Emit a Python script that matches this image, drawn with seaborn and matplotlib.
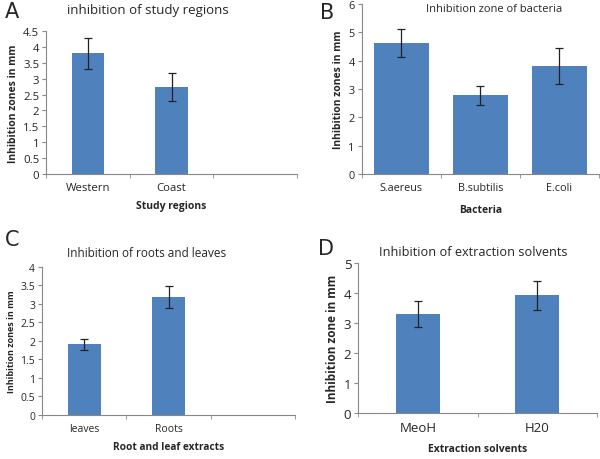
import matplotlib
matplotlib.use('Agg')
import matplotlib.pyplot as plt
import seaborn as sns

# panel A
regions = ['Western', 'Coast']
region_vals = [3.8, 2.75]
region_err = [0.48, 0.44]

# panel B
bacteria = ['S.aereus', 'B.subtilis', 'E.coli']
bacteria_vals = [4.62, 2.77, 3.8]
bacteria_err = [0.49, 0.33, 0.63]

# panel C
parts = ['leaves', 'Roots']
part_vals = [1.9, 3.18]
part_err = [0.15, 0.3]

# panel D
solvents = ['MeoH', 'H20']
solvent_vals = [3.3, 3.92]
solvent_err = [0.43, 0.47]

BLUE = '#4F81BD'

sns.set_style('white')
plt.rcParams['font.family'] = ['Open Sans', 'DejaVu Sans']

fig = plt.figure(figsize=(6, 4.6), dpi=100)


def panel(rect, cats, vals, errs, nslots, width, ymax, ystep, ylabel,
          xlabel, title, letter, tick_fs, title_fs, ylab_fs, xlab_fs,
          xlab_pad, title_xy, letter_xy):
    ax = fig.add_axes(rect)
    sns.barplot(x=cats, y=vals, color=BLUE, width=width, saturation=1,
                edgecolor='none', ax=ax)
    ax.errorbar(range(len(cats)), vals, yerr=errs, fmt='none',
                ecolor='#222222', elinewidth=0.9, capsize=3,
                capthick=0.9)
    ax.set_xlim(-0.5, nslots - 0.5)
    ax.set_ylim(0, ymax)
    ticks = [i * ystep for i in range(int(round(ymax / ystep)) + 1)]
    ax.set_yticks(ticks)
    ax.set_yticklabels([('%g' % t) for t in ticks], fontsize=tick_fs)
    ax.set_xticks(range(len(cats)))
    ax.set_xticklabels(cats, fontsize=tick_fs)
    ax.set_xticks([i - 0.5 for i in range(nslots + 1)], minor=True)
    ax.tick_params(axis='x', which='major', length=0, pad=6)
    ax.tick_params(axis='x', which='minor', length=3, color='#888888',
                   direction='out', bottom=True)
    ax.tick_params(axis='y', length=3, color='#888888', direction='out',
                   left=True, pad=2)
    for s in ['top', 'right']:
        ax.spines[s].set_visible(False)
    for s in ['left', 'bottom']:
        ax.spines[s].set_color('#888888')
        ax.spines[s].set_linewidth(0.8)
    ax.set_ylabel(ylabel, fontsize=ylab_fs, fontweight='bold', labelpad=3)
    ax.set_xlabel(xlabel, fontsize=xlab_fs, fontweight='bold',
                  labelpad=xlab_pad)
    fig.text(title_xy[0], title_xy[1], title, fontsize=title_fs,
             ha='center', va='center')
    fig.text(letter_xy[0], letter_xy[1], letter, fontsize=15,
             family='DejaVu Sans', ha='left', va='center')
    return ax


panel([0.077, 0.62, 0.418, 0.31], regions, region_vals, region_err, 3,
      0.39, 4.5, 0.5, 'Inhibition zones in mm', 'Study regions',
      'inhibition of study regions', 'A', 8.2, 9.5, 7.5, 7.5, 5,
      (0.246, 0.978), (0.008, 0.973))

panel([0.603, 0.62, 0.395, 0.369], bacteria, bacteria_vals, bacteria_err,
      3, 0.7, 6, 1, 'Inhibition zones in mm', 'Bacteria',
      'Inhibition zone of bacteria', 'B', 7.8, 8, 7.5, 7.5, 8,
      (0.823, 0.98), (0.533, 0.972))

panel([0.07, 0.096, 0.422, 0.322], parts, part_vals, part_err, 3,
      0.39, 4, 0.5, 'Inhibition zones in mm', 'Root and leaf extracts',
      'Inhibition of roots and leaves', 'C', 7.5, 8.5, 6.5, 7.3, 5,
      (0.245, 0.448), (0.008, 0.478))

panel([0.597, 0.1, 0.398, 0.326], solvents, solvent_vals, solvent_err, 2,
      0.37, 5, 1, 'Inhibition zone in mm', 'Extraction solvents',
      'Inhibition of extraction solvents', 'D', 9.5, 9.2, 8.5, 7.5, 6,
      (0.788, 0.452), (0.53, 0.458))

fig.savefig('out.png', dpi=100, facecolor='white')
